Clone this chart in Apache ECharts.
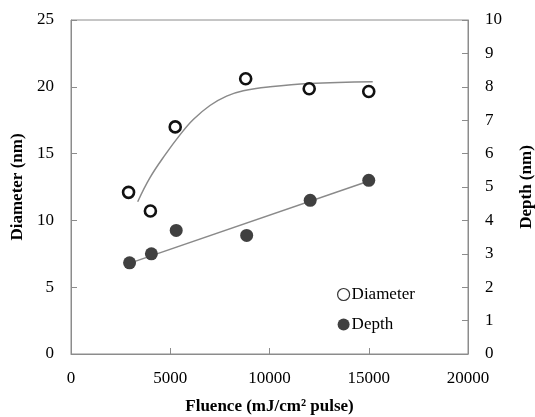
<!DOCTYPE html>
<html>
<head>
<meta charset="utf-8">
<script src="https://cdn.jsdelivr.net/npm/echarts@6/dist/echarts.min.js"></script>
<style>
  html, body { margin: 0; padding: 0; background: #fff; }
  #chart { width: 535px; height: 417px; }
</style>
</head>
<body>
<div id="chart"></div>
<script>
  // data
  var diameterPts = [[2900, 12.1], [4000, 10.7], [5250, 17.0], [8800, 20.6], [12000, 19.85], [15000, 19.65]];
  var depthPts = [[2950, 2.73], [4050, 3.0], [5300, 3.7], [8850, 3.55], [12050, 4.6], [15000, 5.2]];
  // fitted curves as drawn in the picture
  var diameterFit = [[3360, 11.4], [3980, 13.2], [4740, 14.9], [5490, 16.4], [6160, 17.55], [7000, 18.6],
                     [7840, 19.3], [8680, 19.7], [10030, 20.0], [12000, 20.25], [15200, 20.38]];
  var depthFit = [[2970, 2.72], [15010, 5.18]];

  var font = '"Liberation Serif", "Times New Roman", serif';
  var axisGray = '#8c8c8c';

  var myChart = echarts.init(document.getElementById('chart'));
  var option = {
    animation: false,
    textStyle: { fontFamily: font },
    grid: {
      left: 71, right: 67, top: 20, bottom: 63,
      outerBoundsMode: 'none',
      containLabel: false,
      show: true, borderColor: axisGray, borderWidth: 1
    },
    legend: {
      orient: 'vertical',
      left: 332, top: 281,
      itemGap: 13,
      itemWidth: 12, itemHeight: 12,
      icon: 'circle',
      textStyle: { fontFamily: font, fontSize: 17, color: '#000', padding: [0, 0, 0, -3] },
      data: [
        { name: 'Diameter', itemStyle: { color: '#fff', borderColor: '#333', borderWidth: 1.2 } },
        { name: 'Depth', itemStyle: { color: '#404040', borderWidth: 0 } }
      ]
    },
    xAxis: {
      type: 'value',
      min: 0, max: 20000, interval: 5000,
      name: 'Fluence (mJ/cm² pulse)',
      nameLocation: 'middle',
      nameGap: 44,
      nameTextStyle: { fontFamily: font, fontSize: 17, fontWeight: 'bold', color: '#000' },
      axisLine: { lineStyle: { color: axisGray } },
      axisTick: { inside: true, length: 6, lineStyle: { color: axisGray } },
      axisLabel: { fontFamily: font, fontSize: 17, color: '#000', margin: 16, formatter: function (v) { return String(v); } },
      splitLine: { show: false }
    },
    yAxis: [{
      type: 'value',
      min: 0, max: 25, interval: 5,
      name: 'Diameter (nm)',
      nameLocation: 'middle',
      nameRotate: 90,
      nameGap: 43,
      nameTextStyle: { fontFamily: font, fontSize: 17, fontWeight: 'bold', color: '#000' },
      axisLine: { show: true, lineStyle: { color: axisGray } },
      axisTick: { show: true, inside: true, length: 6, lineStyle: { color: axisGray } },
      axisLabel: { fontFamily: font, fontSize: 17, color: '#000', margin: 17 },
      splitLine: { show: false }
    }, {
      type: 'value',
      position: 'right',
      min: 0, max: 10, interval: 1,
      name: 'Depth (nm)',
      nameLocation: 'middle',
      nameRotate: 90,
      nameGap: 50,
      nameTextStyle: { fontFamily: font, fontSize: 17, fontWeight: 'bold', color: '#000' },
      axisLine: { show: true, lineStyle: { color: axisGray } },
      axisTick: { show: true, inside: true, length: 6, lineStyle: { color: axisGray } },
      axisLabel: { fontFamily: font, fontSize: 17, color: '#000', margin: 17 },
      splitLine: { show: false }
    }],
    series: [{
      name: 'Diameter fit',
      type: 'line',
      data: diameterFit,
      smooth: 0.4,
      symbol: 'none',
      lineStyle: { color: '#8a8a8a', width: 1.5 },
      z: 1
    }, {
      name: 'Depth fit',
      type: 'line',
      yAxisIndex: 1,
      data: depthFit,
      symbol: 'none',
      lineStyle: { color: '#8a8a8a', width: 1.5 },
      z: 1
    }, {
      name: 'Diameter',
      type: 'scatter',
      data: diameterPts,
      symbol: 'circle',
      symbolSize: 11,
      itemStyle: { color: '#fff', borderColor: '#111', borderWidth: 2.6, opacity: 1 },
      z: 3
    }, {
      name: 'Depth',
      type: 'scatter',
      yAxisIndex: 1,
      data: depthPts,
      symbol: 'circle',
      symbolSize: 13,
      itemStyle: { color: '#404040', opacity: 1 },
      z: 3
    }]
  };

  myChart.setOption(option);
</script>
</body>
</html>
